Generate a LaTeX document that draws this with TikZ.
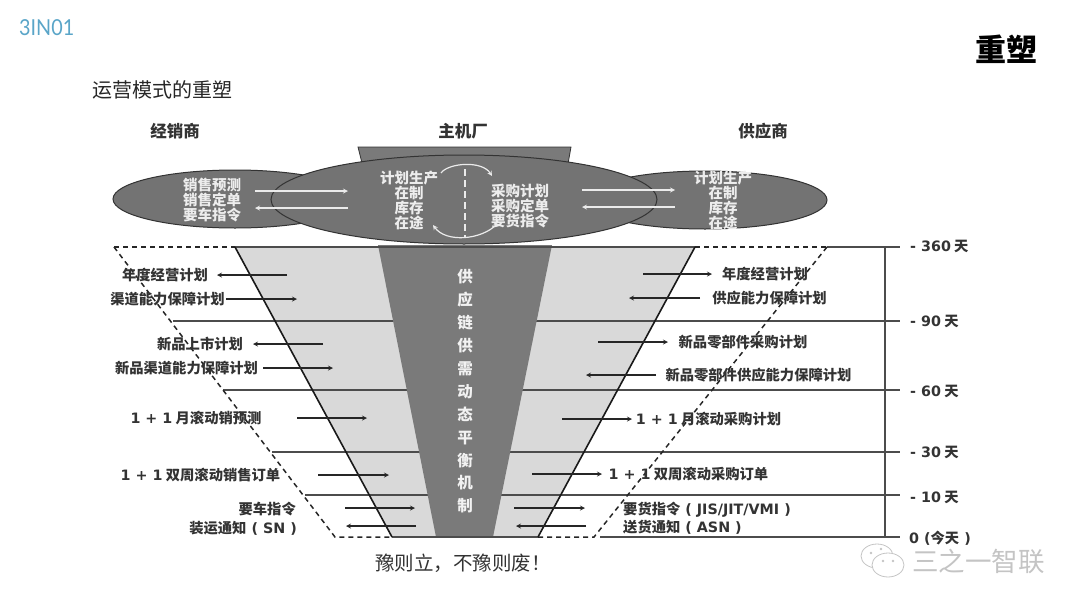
\documentclass[tikz,border=0pt]{standalone}
\usepackage{fontspec}
\setmainfont{Noto Sans CJK SC}
\newfontfamily\lat{DejaVu Sans}
\newfontfamily\logofont{Lato}
\usetikzlibrary{shapes.geometric}
\definecolor{logoblue}{HTML}{5AA5C8}
\definecolor{lightband}{HTML}{D9D9D9}
\definecolor{darkband}{HTML}{7A7A7A}
\definecolor{oval}{HTML}{737373}
\definecolor{labeltext}{HTML}{333333}
\definecolor{markgray}{HTML}{C4C4C4}
\tikzset{
  planlabel/.style={text=labeltext, inner sep=0pt, font=\fontsize{14.3}{14.3}\selectfont\bfseries},
  ovallabel/.style={text=white!93!black, inner sep=0pt, align=center, font=\fontsize{14.5}{15}\selectfont\bfseries},
  partyname/.style={text=labeltext, inner sep=0pt, font=\fontsize{16.5}{17}\selectfont\bfseries},
  partyoval/.style={draw=black!80, line width=1pt, fill=oval, ellipse, inner sep=0pt},
  flow/.style={-stealth, line width=1.2pt, draw=black!85},
  whiteflow/.style={-stealth, line width=1.2pt, draw=white!92!black},
  dayline/.style={line width=1.1pt, draw=black!70},
  edgeline/.style={line width=1.6pt, draw=black!90},
  dashline/.style={line width=1.5pt, draw=black!85, dash pattern=on 5pt off 4pt},
}
\begin{document}
\begin{tikzpicture}[x=1pt,y=-1pt]
\useasboundingbox (0,0) rectangle (1080,608);
% heading
\node[text=logoblue, inner sep=0pt, anchor=west, xscale=0.9, font=\fontsize{22}{22}\selectfont\logofont] (logo) at (19,28) {3IN01};
\node[inner sep=0pt, font=\fontsize{31}{31}\selectfont\bfseries] (title) at (1006,49) {重塑};
\node[text=black!85, inner sep=0pt, anchor=west, font=\fontsize{20}{20}\selectfont] (subtitle) at (92,90) {运营模式的重塑};
\node[partyname] (dealer) at (175,131) {经销商};
\node[partyname] (oem) at (463,131) {主机厂};
\node[partyname] (supplier) at (763,131) {供应商};
% funnel
\fill[lightband] (235,247) -- (695,247) -- (538,537) -- (392,537) -- cycle;
\coordinate (l90) at (173,321); \coordinate (r90) at (900,321);
\coordinate (l60) at (223,390); \coordinate (r60) at (900,390);
\coordinate (l30) at (272,452); \coordinate (r30) at (900,452);
\coordinate (l10) at (305,495); \coordinate (r10) at (900,495);
\draw[dayline] (l90) -- (r90);
\draw[dayline] (l60) -- (r60);
\draw[dayline] (l30) -- (r30);
\draw[dayline] (l10) -- (r10);
\fill[darkband] (378,245) -- (552,245) -- (493,537) -- (436,537) -- cycle;
\coordinate (topa) at (114,247); \coordinate (topb) at (235,247); \coordinate (topc) at (695,247);
\coordinate (topd) at (827,247); \coordinate (tope) at (900,247);
\coordinate (bota) at (335,537); \coordinate (botb) at (392,537); \coordinate (botc) at (538,537);
\coordinate (botd) at (594,537); \coordinate (bote) at (600,537); \coordinate (botf) at (900,537);
\draw[dashline] (topa) -- (topb);
\draw[dashline] (topc) -- (topd);
\draw[dayline] (topb) -- (topc);
\draw[dayline] (topd) -- (tope);
\draw[dashline] (topa) -- (bota) -- (botb);
\draw[dashline] (topd) -- (botd) -- (botc);
\draw[dayline] (botb) -- (botc);
\draw[dayline] (bote) -- (botf);
\draw[edgeline] (topb) -- (botb);
\draw[edgeline] (topc) -- (botc);
\coordinate (axistop) at (885,247); \coordinate (axisbot) at (885,537);
\draw[dayline] (axistop) -- (axisbot);
% ovals
\fill[darkband, draw=black!80, line width=0.8pt] (358,147) -- (571,147) -- (566,175) -- (365,175) -- cycle;
\node[partyoval, minimum width=244pt, minimum height=58pt] (dealeroval) at (235,199) {};
\node[partyoval, minimum width=244pt, minimum height=58pt] (supplieroval) at (705,200) {};
\node[partyoval, minimum width=386pt, minimum height=89pt] (oemoval) at (464,199.5) {};
\node[ovallabel] (dealertext) at (212,200.5) {销售预测\\销售定单\\要车指令};
\node[ovallabel] (oemleft) at (409,200) {计划生产\\在制\\库存\\在途};
\node[ovallabel] (oemright) at (520,206) {采购计划\\采购定单\\要货指令};
\node[ovallabel] (suppliertext) at (723,200) {计划生产\\在制\\库存\\在途};
\coordinate (wa1) at (255,191); \coordinate (wa2) at (348,191);
\coordinate (wb1) at (348,208); \coordinate (wb2) at (255,208);
\coordinate (wc1) at (582,190); \coordinate (wc2) at (675,190);
\coordinate (wd1) at (675,207); \coordinate (wd2) at (582,207);
\draw[whiteflow] (wa1) -- (wa2);
\draw[whiteflow] (wb1) -- (wb2);
\draw[whiteflow] (wc1) -- (wc2);
\draw[whiteflow] (wd1) -- (wd2);
\coordinate (dashtop) at (465,169); \coordinate (dashbot) at (465,238);
\draw[white!92!black, line width=1.1pt, dash pattern=on 7pt off 4pt] (dashtop) -- (dashbot);
\coordinate (arca) at (441,173); \coordinate (arcb) at (492,176);
\coordinate (arcc) at (497,224); \coordinate (arcd) at (433,225);
\draw[whiteflow] (arca) .. controls (448,163) and (482,160) .. (arcb);
\draw[whiteflow] (arcc) .. controls (482,240) and (446,243) .. (arcd);
% centre column
\node[text=white!95!black, inner sep=0pt, align=center, font=\fontsize{15.5}{22.9}\selectfont\bfseries] (column) at (465,391.5) {供\\应\\链\\供\\需\\动\\态\\平\\衡\\机\\制};
% left plans
\node[planlabel] (dyear) at (165,275) {年度经营计划};
\node[planlabel] (dcap) at (167.5,299) {渠道能力保障计划};
\node[planlabel] (dnew) at (200,344) {新品上市计划};
\node[planlabel] (dnewcap) at (186.5,368) {新品渠道能力保障计划};
\node[planlabel] (dmonth) at (196,418) {{\lat 1 + 1} 月滚动销预测};
\node[planlabel] (dweek) at (200.5,475) {{\lat 1 + 1} 双周滚动销售订单};
\node[planlabel, anchor=east] (dcall) at (296,509) {要车指令};
\node[planlabel, anchor=east] (dship) at (297,528) {装运通知{\lat\ ( SN )}};
\coordinate (a1s) at (287,275); \coordinate (a1e) at (217,275);
\coordinate (a2s) at (226,299); \coordinate (a2e) at (297,299);
\coordinate (a3s) at (323,344); \coordinate (a3e) at (253,344);
\coordinate (a4s) at (263,368); \coordinate (a4e) at (333,368);
\coordinate (a5s) at (297,418); \coordinate (a5e) at (367,418);
\coordinate (a6s) at (318,475); \coordinate (a6e) at (389,475);
\coordinate (a7s) at (345,508); \coordinate (a7e) at (415,508);
\coordinate (a8s) at (416,526); \coordinate (a8e) at (346,526);
\draw[flow] (a1s) -- (a1e);
\draw[flow] (a2s) -- (a2e);
\draw[flow] (a3s) -- (a3e);
\draw[flow] (a4s) -- (a4e);
\draw[flow] (a5s) -- (a5e);
\draw[flow] (a6s) -- (a6e);
\draw[flow] (a7s) -- (a7e);
\draw[flow] (a8s) -- (a8e);
% right plans
\node[planlabel] (syear) at (765,274) {年度经营计划};
\node[planlabel] (scap) at (769.5,298) {供应能力保障计划};
\node[planlabel] (snew) at (743,342) {新品零部件采购计划};
\node[planlabel] (snewcap) at (758.5,375) {新品零部件供应能力保障计划};
\node[planlabel] (smonth) at (708.5,419) {{\lat 1 + 1} 月滚动采购计划};
\node[planlabel] (sweek) at (688.5,474) {{\lat 1 + 1} 双周滚动采购订单};
\node[planlabel, anchor=west] (scall) at (623,510) {要货指令{\lat\ ( JIS/JIT/VMI )}};
\node[planlabel, anchor=west] (sship) at (623,527) {送货通知{\lat\ ( ASN )}};
\coordinate (b1s) at (643,274); \coordinate (b1e) at (712,274);
\coordinate (b2s) at (700,298); \coordinate (b2e) at (629,298);
\coordinate (b3s) at (598,342); \coordinate (b3e) at (668,342);
\coordinate (b4s) at (656,375); \coordinate (b4e) at (586,375);
\coordinate (b5s) at (562,419); \coordinate (b5e) at (632,419);
\coordinate (b6s) at (532,474); \coordinate (b6e) at (602,474);
\coordinate (b7s) at (514,508); \coordinate (b7e) at (585,508);
\coordinate (b8s) at (586,526); \coordinate (b8e) at (516,526);
\draw[flow] (b1s) -- (b1e);
\draw[flow] (b2s) -- (b2e);
\draw[flow] (b3s) -- (b3e);
\draw[flow] (b4s) -- (b4e);
\draw[flow] (b5s) -- (b5e);
\draw[flow] (b6s) -- (b6e);
\draw[flow] (b7s) -- (b7e);
\draw[flow] (b8s) -- (b8e);
% day marks
\node[planlabel, anchor=west] (d360) at (910,246) {{\lat - 360} 天};
\node[planlabel, anchor=west] (d90) at (910,321) {{\lat - 90} 天};
\node[planlabel, anchor=west] (d60) at (910,391) {{\lat - 60} 天};
\node[planlabel, anchor=west] (d30) at (910,452) {{\lat - 30} 天};
\node[planlabel, anchor=west] (d10) at (910,497) {{\lat - 10} 天};
\node[planlabel, anchor=west] (d0) at (909,538) {{\lat 0 (}今天{\lat\ )}};
% closing line
\node[text=labeltext, inner sep=0pt, anchor=west, font=\fontsize{19.5}{20}\selectfont] (motto) at (375,563) {豫则立，不豫则废！};
% watermark
\draw[markgray, line width=0.8pt, fill=white] (877,556) ellipse (16 and 12);
\draw[markgray, line width=0.8pt, fill=white] (888,565) ellipse (16 and 12);
\fill[markgray] (883,561) circle (1.3) (893,561) circle (1.3) (871,553) circle (1.3) (881,549) circle (1.3);
\node[text=markgray, inner sep=0pt, anchor=west, font=\fontsize{26.5}{26.5}\selectfont] (mark) at (912,561) {三之一智联};
\end{tikzpicture}
\end{document}
